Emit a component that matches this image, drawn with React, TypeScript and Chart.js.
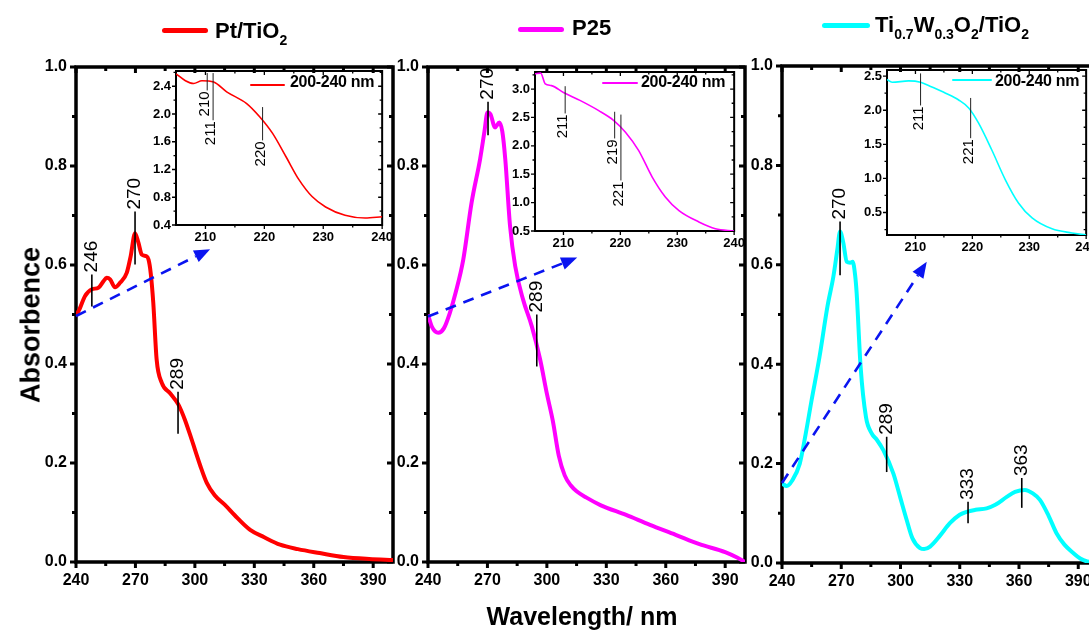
import React, { useEffect, useRef } from 'react';
import { Chart, registerables } from 'chart.js';

Chart.register(...registerables);

const FONT = "'Liberation Sans', Arial, Helvetica, sans-serif";

// ---------------- main spectra ----------------
const ptWavelength = [240, 242, 244.5, 248, 251.3, 253.8, 255.5, 257.2, 259.7, 262.2, 265.6, 267.6, 269.8, 271.5, 273.2, 275.4, 276.6, 277.7, 279, 280.7, 283.3, 287.5, 291.7, 295, 298.4, 302.6, 306, 310, 315.3, 320, 327.9, 335, 343, 352, 363, 375, 388, 400];
const ptAbsorbance = [0.497, 0.513, 0.537, 0.551, 0.554, 0.567, 0.574, 0.571, 0.555, 0.564, 0.584, 0.618, 0.664, 0.645, 0.621, 0.618, 0.611, 0.584, 0.524, 0.409, 0.362, 0.341, 0.318, 0.287, 0.247, 0.196, 0.16, 0.135, 0.115, 0.095, 0.065, 0.05, 0.035, 0.026, 0.018, 0.01, 0.006, 0.004];

const p25Wavelength = [240, 242, 245.2, 248, 251, 254, 257.8, 262, 266.3, 268.5, 270, 271.5, 273.8, 276, 277.5, 279, 281.4, 284, 288, 292.4, 296.6, 300, 303, 306, 309, 312, 315, 320, 327, 340, 352, 365, 377, 390, 396, 400];
const p25Absorbance = [0.5, 0.475, 0.463, 0.472, 0.503, 0.545, 0.611, 0.726, 0.814, 0.87, 0.908, 0.905, 0.878, 0.888, 0.87, 0.814, 0.679, 0.598, 0.53, 0.476, 0.409, 0.34, 0.285, 0.215, 0.175, 0.155, 0.143, 0.13, 0.115, 0.095, 0.075, 0.055, 0.036, 0.02, 0.009, 0.0];

const twWavelength = [240, 242.4, 245, 249, 252, 255, 259, 263, 266, 268, 269.4, 271, 272.8, 274.5, 275.8, 277, 277.8, 279.8, 282.5, 285.4, 288, 291.3, 296.4, 300, 303.1, 306, 309.9, 312, 315, 320, 325, 330, 333.5, 338, 343.6, 348, 353.8, 358, 363, 367, 370.6, 375, 379, 383, 387.5, 391, 394.5, 400];
const twAbsorbance = [0.16, 0.155, 0.165, 0.2, 0.26, 0.328, 0.415, 0.516, 0.576, 0.63, 0.667, 0.645, 0.606, 0.604, 0.606, 0.58, 0.543, 0.395, 0.294, 0.261, 0.248, 0.227, 0.18, 0.13, 0.087, 0.05, 0.03, 0.028, 0.033, 0.055, 0.08, 0.097, 0.103, 0.107, 0.11, 0.117, 0.133, 0.143, 0.147, 0.14, 0.127, 0.095, 0.06, 0.037, 0.02, 0.009, 0.003, 0.0];

// ---------------- inset spectra (200-240 nm) ----------------
const ptInsetWavelength = [205, 206.6, 208, 209.4, 211.4, 213.6, 217, 219.2, 221.4, 223.7, 225.9, 228.1, 230.4, 233.7, 237.1, 240];
const ptInsetAbsorbance = [2.58, 2.48, 2.44, 2.48, 2.46, 2.32, 2.15, 1.96, 1.72, 1.38, 1.05, 0.81, 0.66, 0.54, 0.5, 0.52];

const p25InsetWavelength = [205, 206, 206.8, 207.9, 210, 212.9, 216.2, 218.8, 220.9, 223.2, 225.6, 227.9, 230.3, 233.8, 236.7, 240];
const p25InsetAbsorbance = [3.27, 3.28, 3.09, 3.06, 2.94, 2.8, 2.62, 2.45, 2.24, 1.92, 1.45, 1.1, 0.86, 0.66, 0.54, 0.5];

const twInsetWavelength = [205, 205.9, 208.8, 210.9, 212.9, 215.3, 217.6, 219.4, 221.1, 223.4, 225.8, 228.1, 230.5, 234, 237.5, 240];
const twInsetAbsorbance = [2.45, 2.41, 2.43, 2.41, 2.34, 2.25, 2.15, 2.03, 1.81, 1.42, 0.98, 0.64, 0.42, 0.26, 0.2, 0.17];

// ---------------- ticks ----------------
const mainXTicks = [240, 255, 270, 285, 300, 315, 330, 345, 360, 375, 390];
const mainXLabels = [240, 270, 300, 330, 360, 390];
const mainYTicks = [0, 0.1, 0.2, 0.3, 0.4, 0.5, 0.6, 0.7, 0.8, 0.9, 1.0];
const mainYLabels = [0, 0.2, 0.4, 0.6, 0.8, 1.0];

const insetXTicks = [210, 215, 220, 225, 230, 235, 240];
const insetXLabels = [210, 220, 230, 240];
const ptInsetYTicks = [0.4, 0.6, 0.8, 1.0, 1.2, 1.4, 1.6, 1.8, 2.0, 2.2, 2.4, 2.6];
const ptInsetYLabels = [0.4, 0.8, 1.2, 1.6, 2.0, 2.4];
const p25InsetYTicks = [0.5, 0.75, 1.0, 1.25, 1.5, 1.75, 2.0, 2.25, 2.5, 2.75, 3.0, 3.25];
const p25InsetYLabels = [0.5, 1.0, 1.5, 2.0, 2.5, 3.0];
const twInsetYTicks = [0.25, 0.5, 0.75, 1.0, 1.25, 1.5, 1.75, 2.0, 2.25, 2.5];
const twInsetYLabels = [0.5, 1.0, 1.5, 2.0, 2.5];

// ---------------- peak markers (nm, label, lower / upper absorbance of the marker line) ----------------
const ptPeaks = [
  { nm: 248, label: '246', lo: 0.516, hi: 0.581 },
  { nm: 269.8, label: '270', lo: 0.601, hi: 0.708 },
  { nm: 291.5, label: '289', lo: 0.259, hi: 0.344 },
];
const p25Peaks = [
  { nm: 270.3, label: '270', lo: 0.862, hi: 0.93 },
  { nm: 294.9, label: '289', lo: 0.395, hi: 0.5 },
];
const twPeaks = [
  { nm: 269.4, label: '270', lo: 0.579, hi: 0.687 },
  { nm: 293, label: '289', lo: 0.183, hi: 0.254 },
  { nm: 334.2, label: '333', lo: 0.08, hi: 0.123 },
  { nm: 361.4, label: '363', lo: 0.111, hi: 0.171 },
];
const ptInsetPeaks = [
  { nm: 210.3, label: '210', lo: 2.34, hi: 2.59 },
  { nm: 211.3, label: '211', lo: 1.91, hi: 2.59 },
  { nm: 219.7, label: '220', lo: 1.62, hi: 2.1 },
];
const p25InsetPeaks = [
  { nm: 210.3, label: '211', lo: 2.57, hi: 3.05 },
  { nm: 219, label: '219', lo: 2.13, hi: 2.6 },
  { nm: 220.1, label: '221', lo: 1.39, hi: 2.55 },
];
const twInsetPeaks = [
  { nm: 210.9, label: '211', lo: 2.07, hi: 2.54 },
  { nm: 219.7, label: '221', lo: 1.59, hi: 2.18 },
];

// dashed zoom arrows: [nm, absorbance] start and end
const ptArrow = { from: [240, 0.497], to: [307.7, 0.632] };
const p25Arrow = { from: [240, 0.496], to: [315.3, 0.615] };
const twArrow = { from: [240, 0.161], to: [313.3, 0.606] };

const near = (arr: number[], v: number) => arr.some((a) => Math.abs(a - v) < 1e-9);

function decorPlugin(cfg: any) {
  return {
    id: 'decor',
    beforeDatasetsDraw(chart: any) {
      const { ctx, chartArea } = chart;
      const { left, right, top, bottom } = chartArea;
      const xs = chart.scales.x;
      const ys = chart.scales.y;
      ctx.save();
      ctx.strokeStyle = '#000';
      ctx.lineWidth = cfg.frameWidth;
      ctx.strokeRect(left, top, right - left, bottom - top);
      ctx.lineWidth = cfg.tickWidth;
      ctx.beginPath();
      for (const t of xs.ticks) {
        const px = xs.getPixelForValue(t.value);
        const major = t.label !== '';
        const len = major ? cfg.majorLen : cfg.minorLen;
        ctx.moveTo(px, bottom);
        ctx.lineTo(px, bottom + len);
        ctx.moveTo(px, top);
        ctx.lineTo(px, top + len);
      }
      for (const t of ys.ticks) {
        const py = ys.getPixelForValue(t.value);
        const major = t.label !== '';
        const len = major ? cfg.majorLen : cfg.minorLen;
        ctx.moveTo(left, py);
        ctx.lineTo(left - len, py);
        ctx.moveTo(right, py);
        ctx.lineTo(right - len, py);
      }
      ctx.stroke();
      ctx.restore();
    },
    afterDatasetsDraw(chart: any) {
      const { ctx } = chart;
      const xs = chart.scales.x;
      const ys = chart.scales.y;
      ctx.save();
      for (const p of cfg.peaks) {
        const px = xs.getPixelForValue(p.nm);
        const yLo = ys.getPixelForValue(p.lo);
        const yHi = ys.getPixelForValue(p.hi);
        ctx.strokeStyle = cfg.markColor;
        ctx.lineWidth = cfg.markWidth;
        ctx.beginPath();
        ctx.moveTo(px, yLo);
        ctx.lineTo(px, yHi);
        ctx.stroke();
        ctx.fillStyle = '#000';
        ctx.font = cfg.markFont;
        ctx.textBaseline = 'middle';
        ctx.save();
        if (cfg.textAbove) {
          ctx.translate(px + cfg.textDx, yHi - 2);
          ctx.rotate(-Math.PI / 2);
          ctx.textAlign = 'left';
        } else {
          ctx.translate(px + cfg.textDx, yLo + 1);
          ctx.rotate(-Math.PI / 2);
          ctx.textAlign = 'right';
        }
        ctx.fillText(p.label, 0, 0);
        ctx.restore();
      }
      if (cfg.arrow) {
        const x0 = xs.getPixelForValue(cfg.arrow.from[0]);
        const y0 = ys.getPixelForValue(cfg.arrow.from[1]);
        const x1 = xs.getPixelForValue(cfg.arrow.to[0]);
        const y1 = ys.getPixelForValue(cfg.arrow.to[1]);
        const ang = Math.atan2(y1 - y0, x1 - x0);
        const headLen = 16;
        const headW = 6.5;
        const bx = x1 - headLen * Math.cos(ang);
        const by = y1 - headLen * Math.sin(ang);
        ctx.strokeStyle = '#0a14f0';
        ctx.fillStyle = '#0a14f0';
        ctx.lineWidth = 2.6;
        ctx.setLineDash([11, 8]);
        ctx.beginPath();
        ctx.moveTo(x0, y0);
        ctx.lineTo(bx, by);
        ctx.stroke();
        ctx.setLineDash([]);
        ctx.beginPath();
        ctx.moveTo(x1, y1);
        ctx.lineTo(bx + headW * Math.sin(ang), by - headW * Math.cos(ang));
        ctx.lineTo(bx - headW * Math.sin(ang), by + headW * Math.cos(ang));
        ctx.closePath();
        ctx.fill();
      }
      ctx.restore();
    },
  };
}

type Spec = {
  key: string;
  rect: { L: number; T: number; R: number; B: number };
  pad: number;
  yw: number;
  xh: number;
  wl: number[];
  abs: number[];
  color: string;
  lw: number;
  xMin: number;
  xMax: number;
  yMin: number;
  yMax: number;
  xTicks: number[];
  xLabels: number[];
  yTicks: number[];
  yLabels: number[];
  tickFont: number;
  tickPad: number;
  decor: any;
};

function SpectrumChart({ spec }: { spec: Spec }) {
  const ref = useRef<HTMLCanvasElement | null>(null);
  const { rect, pad, yw, xh } = spec;
  const cw = Math.round(rect.R - rect.L + yw + 2 * pad);
  const chh = Math.round(rect.B - rect.T + xh + 2 * pad);
  const cl = rect.L - pad - yw;
  const ct = rect.T - pad;
  useEffect(() => {
    const s = spec;
    const chart = new Chart(ref.current as HTMLCanvasElement, {
      type: 'line',
      data: {
        datasets: [
          {
            data: s.wl.map((x, i) => ({ x, y: s.abs[i] })),
            borderColor: s.color,
            borderWidth: s.lw,
            pointRadius: 0,
            fill: false,
            cubicInterpolationMode: 'monotone',
          } as any,
        ],
      },
      options: {
        responsive: false,
        animation: false,
        devicePixelRatio: 1,
        layout: { padding: s.pad },
        plugins: { legend: { display: false }, tooltip: { enabled: false } },
        scales: {
          x: {
            type: 'linear',
            min: s.xMin,
            max: s.xMax,
            afterBuildTicks: (sc: any) => {
              sc.ticks = s.xTicks.map((v) => ({ value: v }));
            },
            afterFit: (sc: any) => {
              sc.height = s.xh;
            },
            ticks: {
              autoSkip: false,
              maxRotation: 0,
              padding: s.tickPad,
              color: '#000',
              font: { family: FONT, size: s.tickFont, weight: 'bold' },
              callback: (v: any) => (near(s.xLabels, Number(v)) ? String(v) : ''),
            },
            grid: { display: false, drawTicks: false },
            border: { display: false },
          },
          y: {
            type: 'linear',
            min: s.yMin,
            max: s.yMax,
            afterBuildTicks: (sc: any) => {
              sc.ticks = s.yTicks.map((v) => ({ value: v }));
            },
            afterFit: (sc: any) => {
              sc.width = s.yw;
            },
            ticks: {
              autoSkip: false,
              padding: s.tickPad,
              color: '#000',
              font: { family: FONT, size: s.tickFont, weight: 'bold' },
              callback: (v: any) => (near(s.yLabels, Number(v)) ? Number(v).toFixed(1) : ''),
            },
            grid: { display: false, drawTicks: false },
            border: { display: false },
          },
        },
      } as any,
      plugins: [decorPlugin(s.decor)],
    });
    return () => chart.destroy();
  }, []);
  return (
    <canvas
      ref={ref}
      width={cw}
      height={chh}
      style={{ position: 'absolute', left: cl, top: ct, width: cw, height: chh }}
    />
  );
}

const mainDecor = (peaks: any[], arrow: any) => ({
  frameWidth: 3.5,
  tickWidth: 3,
  majorLen: 6,
  minorLen: 4,
  peaks,
  arrow,
  markColor: '#000',
  markWidth: 1.6,
  markFont: `19px ${FONT}`,
  textAbove: true,
  textDx: 0,
});
const insetDecor = (peaks: any[]) => ({
  frameWidth: 2,
  tickWidth: 1.3,
  majorLen: 4,
  minorLen: 2.5,
  peaks,
  arrow: null,
  markColor: '#222',
  markWidth: 1,
  markFont: `15px ${FONT}`,
  textAbove: false,
  textDx: -2,
});

const mainBase = {
  pad: 20,
  yw: 60,
  xh: 30,
  lw: 4,
  xMin: 240,
  xMax: 400,
  yMin: 0,
  yMax: 1,
  xTicks: mainXTicks,
  xLabels: mainXLabels,
  yTicks: mainYTicks,
  yLabels: mainYLabels,
  tickFont: 16,
  tickPad: 9,
};
const insetBase = {
  pad: 14,
  yw: 32,
  xh: 20,
  lw: 1.6,
  xMin: 205,
  xMax: 240,
  xTicks: insetXTicks,
  xLabels: insetXLabels,
  tickFont: 13,
  tickPad: 5,
};

const CYAN = '#00ffff';

const specs: Spec[] = [
  { ...mainBase, key: 'pt', rect: { L: 76, T: 67, R: 393, B: 562 }, wl: ptWavelength, abs: ptAbsorbance, color: '#ff0000', decor: mainDecor(ptPeaks, ptArrow) } as Spec,
  { ...mainBase, key: 'p25', rect: { L: 428, T: 67, R: 745, B: 562 }, wl: p25Wavelength, abs: p25Absorbance, color: '#ff00ff', decor: mainDecor(p25Peaks, p25Arrow) } as Spec,
  { ...mainBase, key: 'tw', rect: { L: 782, T: 66, R: 1098, B: 563 }, wl: twWavelength, abs: twAbsorbance, color: CYAN, decor: mainDecor(twPeaks, twArrow) } as Spec,
  { ...insetBase, key: 'ptI', rect: { L: 176, T: 71, R: 384, B: 225 }, wl: ptInsetWavelength, abs: ptInsetAbsorbance, color: '#ff0000', yMin: 0.4, yMax: 2.62, yTicks: ptInsetYTicks, yLabels: ptInsetYLabels, decor: insetDecor(ptInsetPeaks) } as Spec,
  { ...insetBase, key: 'p25I', rect: { L: 535, T: 72, R: 736, B: 231 }, wl: p25InsetWavelength, abs: p25InsetAbsorbance, color: '#ff00ff', yMin: 0.5, yMax: 3.3, yTicks: p25InsetYTicks, yLabels: p25InsetYLabels, decor: insetDecor(p25InsetPeaks) } as Spec,
  { ...insetBase, key: 'twI', rect: { L: 887, T: 70, R: 1088, B: 235 }, wl: twInsetWavelength, abs: twInsetAbsorbance, color: CYAN, yMin: 0.17, yMax: 2.59, yTicks: twInsetYTicks, yLabels: twInsetYLabels, decor: insetDecor(twInsetPeaks) } as Spec,
];

const sub = (t: string) => (
  <span style={{ fontSize: 14, position: 'relative', top: 7 }}>{t}</span>
);

function LegendLine({ left, y, width, h, color }: any) {
  return (
    <div style={{ position: 'absolute', left, top: y - h / 2, width, height: h, background: color, borderRadius: h / 2 }} />
  );
}

function Label({ left, baseline, size, children, weight = 'bold', spacing = 0 }: any) {
  return (
    <div
      style={{
        position: 'absolute',
        left,
        top: baseline - 0.8465 * size,
        fontFamily: FONT,
        fontWeight: weight as any,
        fontSize: size,
        lineHeight: `${size}px`,
        whiteSpace: 'nowrap',
        color: '#000',
        letterSpacing: spacing,
      }}
    >
      {children}
    </div>
  );
}

export default function App() {
  return (
    <div style={{ position: 'absolute', left: 0, top: 0, width: 1089, height: 632, overflow: 'hidden', background: '#fff' }}>
      {specs.map((s) => (
        <SpectrumChart key={s.key} spec={s} />
      ))}

      {/* top legends */}
      <LegendLine left={162} y={30} width={46} h={5} color="#ff0000" />
      <Label left={215} baseline={39} size={22}>Pt/TiO{sub('2')}</Label>
      <LegendLine left={518} y={29.5} width={46} h={5} color="#ff00ff" />
      <Label left={572} baseline={36} size={22}>P25</Label>
      <LegendLine left={822} y={25} width={48} h={5} color={CYAN} />
      <Label left={875} baseline={33} size={22}>
        Ti{sub('0.7')}W{sub('0.3')}O{sub('2')}/TiO{sub('2')}
      </Label>

      {/* inset legends */}
      <LegendLine left={250} y={84.5} width={35} h={2} color="#ff0000" />
      <Label left={290} baseline={88} size={16} spacing={-0.3}>200-240 nm</Label>
      <LegendLine left={602} y={83} width={36} h={2} color="#ff00ff" />
      <Label left={641} baseline={88} size={16} spacing={-0.3}>200-240 nm</Label>
      <LegendLine left={952} y={80} width={40} h={2} color={CYAN} />
      <Label left={995} baseline={87} size={16} spacing={-0.3}>200-240 nm</Label>

      {/* axis titles */}
      <div
        style={{
          position: 'absolute',
          left: 31,
          top: 325,
          transform: 'translate(-50%, -50%) rotate(-90deg)',
          fontFamily: FONT,
          fontWeight: 'bold',
          fontSize: 27,
          whiteSpace: 'nowrap',
          color: '#000',
        }}
      >
        Absorbence
      </div>
      <div
        style={{
          position: 'absolute',
          left: 582,
          top: 625 - 0.8465 * 25,
          transform: 'translateX(-50%)',
          fontFamily: FONT,
          fontWeight: 'bold',
          fontSize: 25,
          lineHeight: '25px',
          whiteSpace: 'nowrap',
          color: '#000',
        }}
      >
        Wavelength/ nm
      </div>
    </div>
  );
}
